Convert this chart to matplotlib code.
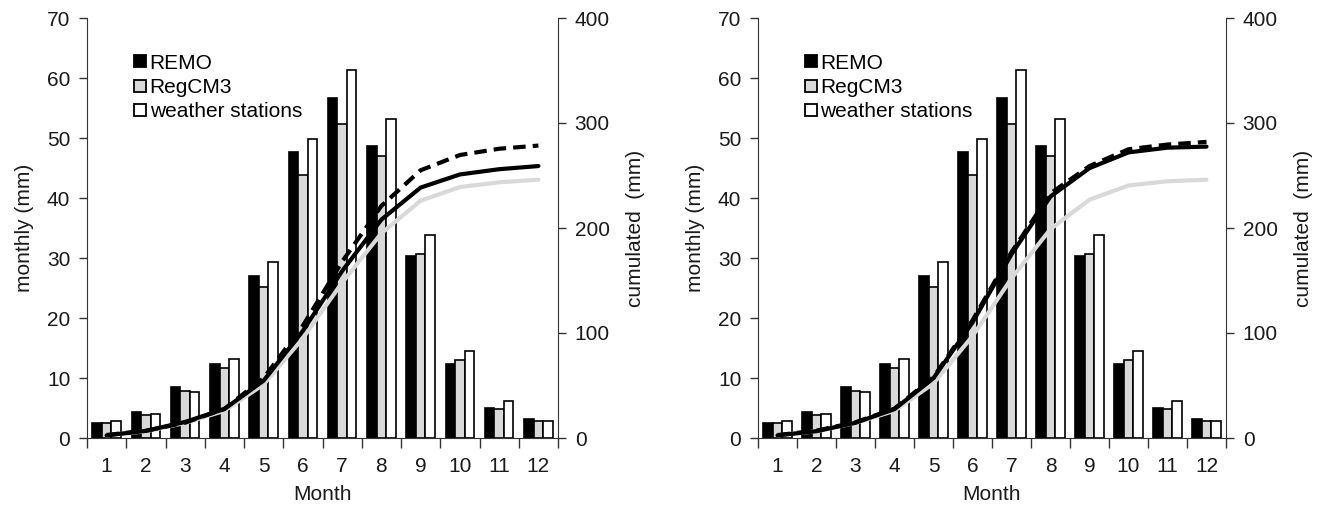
import matplotlib
matplotlib.use('Agg')
import matplotlib.pyplot as plt
import numpy as np
from matplotlib.lines import Line2D

plt.rcParams['font.family'] = ['Liberation Sans', 'DejaVu Sans']

months = list(range(1, 13))
month_labels = [str(m) for m in months]

# monthly precipitation (mm)
remo = [2.5, 4.3, 8.5, 12.3, 27.0, 47.6, 56.6, 48.7, 30.4, 12.3, 5.0, 3.1]
regcm3 = [2.5, 3.9, 7.9, 11.6, 25.1, 43.8, 52.3, 47.0, 30.6, 13.0, 4.8, 2.9]
stations = [2.9, 4.0, 7.7, 13.1, 29.4, 49.8, 61.3, 53.1, 33.8, 14.5, 6.1, 2.8]

# cumulated (mm) - left panel
cum_left_remo = [2.5, 6.8, 15.3, 27.6, 54.6, 102.0, 159.0, 208.0, 238.5, 251.0, 256.0, 259.0]
cum_left_regcm3 = [2.5, 6.4, 14.3, 25.9, 51.0, 95.0, 148.0, 195.0, 226.0, 239.0, 243.5, 246.0]
cum_left_stations = [2.9, 6.9, 14.6, 27.7, 57.1, 107.0, 168.0, 221.0, 255.0, 269.5, 275.5, 278.5]

# cumulated (mm) - right panel
cum_right_remo = [2.5, 6.5, 14.5, 27.5, 57.0, 110.0, 175.0, 230.0, 257.0, 272.0, 276.5, 277.5]
cum_right_regcm3 = [2.5, 6.4, 14.3, 25.9, 52.0, 97.0, 152.0, 199.0, 227.0, 240.5, 244.5, 246.0]
cum_right_stations = [2.8, 7.0, 15.0, 28.0, 58.0, 112.0, 177.0, 233.0, 259.0, 275.0, 279.5, 282.0]

legend_labels = ['REMO', 'RegCM3', 'weather stations']

GREY = '#d9d9d9'
TXT = '#1a1a1a'
FS = 15

fig = plt.figure(figsize=(13.21, 5.05), dpi=100)

panels = [
    ([87 / 1321, 1 - 438 / 505, 471 / 1321, 420 / 505],
     cum_left_remo, cum_left_regcm3, cum_left_stations),
    ([758 / 1321, 1 - 438 / 505, 468 / 1321, 420 / 505],
     cum_right_remo, cum_right_regcm3, cum_right_stations),
]

x = np.array(months, dtype=float)
w = 0.24

for rect, c_remo, c_reg, c_st in panels:
    ax = fig.add_axes(rect)
    ax2 = ax.twinx()

    ax.bar(x - w, remo, w, color='black', edgecolor='black', linewidth=1.2, zorder=2)
    ax.bar(x, regcm3, w, color=GREY, edgecolor='black', linewidth=1.2, zorder=2)
    ax.bar(x + w, stations, w, color='white', edgecolor='black', linewidth=1.2, zorder=2)

    ax.set_xlim(0.5, 12.5)
    ax.set_ylim(0, 70)
    ax.set_yticks(range(0, 71, 10))
    ax.set_xticks(x)
    ax.set_xticklabels(month_labels)
    ax.set_xticks(np.arange(0.5, 12.6, 1.0), minor=True)
    ax.tick_params(axis='x', which='major', length=0, pad=14, labelsize=FS, colors=TXT)
    ax.tick_params(axis='x', which='minor', length=7, width=1, direction='out', color='#333333')
    ax.tick_params(axis='y', which='major', length=6, width=1, direction='out',
                   labelsize=FS, colors=TXT, pad=6)
    ax.tick_params(axis='y', color='#333333')
    for s in ['top', 'right']:
        ax.spines[s].set_visible(False)
    ax.spines['left'].set_color('#333333')
    ax.spines['bottom'].set_color('#333333')
    ax.set_ylabel('monthly (mm)', fontsize=FS, color=TXT, labelpad=9)
    ax.set_xlabel('Month', fontsize=FS, color=TXT, labelpad=6)

    ax2.set_ylim(0, 400)
    ax2.set_yticks(range(0, 401, 100))
    ax2.tick_params(axis='y', length=6, width=1, direction='out', labelsize=FS,
                    colors=TXT, pad=6)
    ax2.tick_params(axis='y', color='#333333')
    for s in ['top', 'left', 'bottom']:
        ax2.spines[s].set_visible(False)
    ax2.spines['right'].set_color('#333333')
    ax2.set_ylabel('cumulated  (mm)', fontsize=FS, color=TXT, labelpad=12)

    ax2.plot(x, c_reg, color=GREY, linewidth=3, solid_capstyle='round', zorder=3)
    ax2.plot(x, c_remo, color='black', linewidth=3, solid_capstyle='round', zorder=4)
    ax2.plot(x, c_st, color='black', linewidth=3, linestyle=(0, (3, 1.7)), zorder=5)

    handles = [Line2D([], [], linestyle='none', marker='s', markersize=8,
                      markerfacecolor=fc, markeredgecolor='black', markeredgewidth=1.3)
               for fc in ['black', GREY, 'white']]
    ax2.legend(handles, legend_labels, loc='upper left', bbox_to_anchor=(0.1, 0.915),
               frameon=False, fontsize=FS, handlelength=0.6, handleheight=0.7,
               handletextpad=0.15, labelspacing=0.25, borderpad=0, borderaxespad=0)

fig.savefig('out.png', dpi=100)
